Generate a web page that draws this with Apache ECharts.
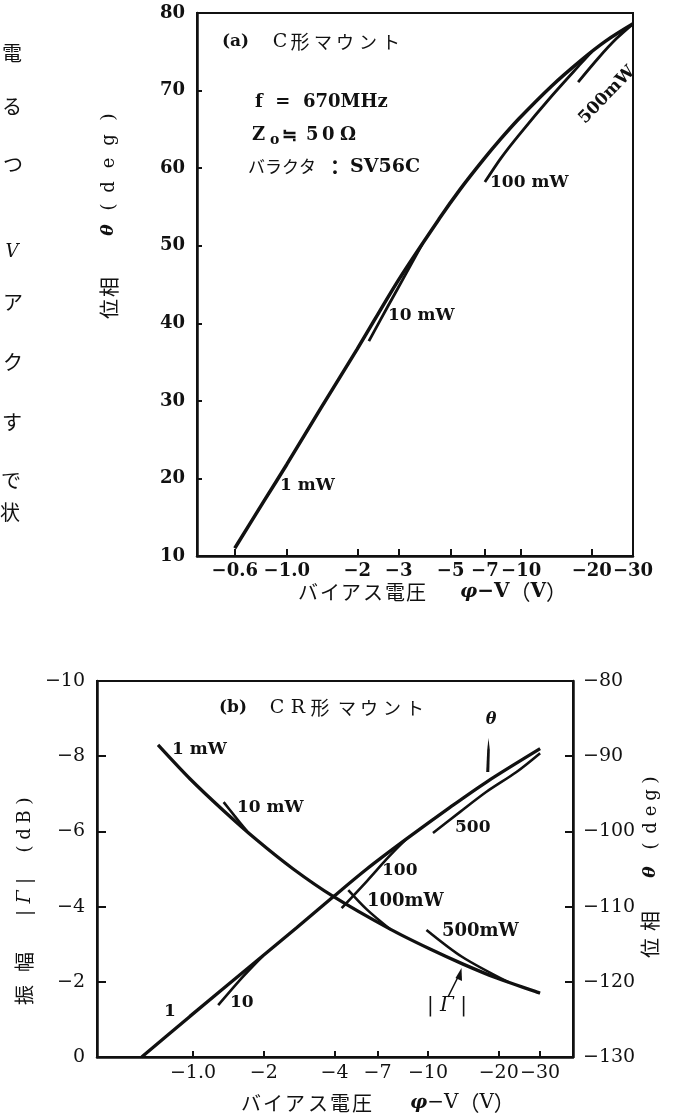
<!DOCTYPE html>
<html><head><meta charset="utf-8">
<script src="https://cdn.jsdelivr.net/npm/echarts@6/dist/echarts.min.js"></script>
<style>html,body{margin:0;padding:0;background:#fff}#c{width:689px;height:1117px}</style>
</head><body><div id="c"></div>
<script>
// ---------------- data (bias voltage magnitude |φ−V| in volts) ----------------
const ticksA = [0.6, 1, 2, 3, 5, 7, 10, 20, 30];
const tickLabelsA = ['−0.6', '−1.0', '−2', '−3', '−5', '−7', '−10', '−20', '−30'];
// chart (b): the "−7" tick is printed at about 6.1 on the log scale
const ticksB = [1, 2, 4, 6.1, 10, 20, 30];
const tickLabelsB = ['−1.0', '−2', '−4', '−7', '−10', '−20', '−30'];

// (a) C-mount: phase θ (deg)
const thetaA_1mW = [[0.6, 11], [0.8, 17.1], [1.0, 21.8], [1.4, 29.1], [2.0, 36.7], [3.0, 45.6], [4.5, 53.6],
  [5.5, 57.3], [6.9, 61.1], [8.2, 63.8], [9.8, 66.4], [13.5, 70.6], [18, 73.9], [23, 76.4], [30, 78.6]];
const thetaA_10mW = [[2.24, 37.7], [2.7, 42.2], [3.2, 46.2], [3.8, 50.3]];
const thetaA_100mW = [[7.0, 58.2], [8.2, 61.3], [9.8, 64.3], [13.5, 69.3], [18, 73.5], [20, 75.0]];
const thetaA_500mW = [[17.5, 71.1], [21.5, 74.3], [25.5, 76.7], [30, 78.6]];

// (b) CR-mount: amplitude |Γ| (dB)
const gammaB_1mW = [[0.71, -8.3], [0.97, -7.40], [1.35, -6.55], [1.87, -5.77], [2.67, -5.0], [3.95, -4.27],
  [6.9, -3.40], [10.2, -2.87], [14.1, -2.47], [19.6, -2.10], [30, -1.70]];
const gammaB_10mW = [[1.35, -6.78], [1.5, -6.42], [1.7, -6.0]];
const gammaB_100mW = [[4.58, -4.44], [5.5, -3.92], [6.9, -3.40]];
const gammaB_500mW = [[9.85, -3.38], [14, -2.66], [22, -1.99]];
// (b) CR-mount: phase θ (deg)
const thetaB_1mW = [[0.605, -130], [0.97, -124.6], [1.87, -117.2], [2.76, -112.8], [3.95, -108.7],
  [5.49, -105.0], [8.1, -101.0], [12.4, -96.8], [17.8, -93.4], [30, -89.0]];
const thetaB_10mW = [[1.28, -123.1], [1.6, -119.6], [1.99, -116.5]];
const thetaB_100mW = [[4.29, -110.2], [5.5, -106.6], [6.8, -103.4], [8.1, -101.0]];
const thetaB_500mW = [[10.5, -100.2], [13.7, -97.4], [17.8, -94.7], [23.8, -92.1], [30, -89.6]];

// ---------------- styles ----------------
const INK = '#111';
const SERIF = "'DejaVu Serif', 'Liberation Serif', serif";
const CJK = "'Noto Sans CJK JP', sans-serif";

function logLabel(ticks, labels) {
  return function (v) {
    for (let i = 0; i < ticks.length; i++) {
      if (Math.abs(Math.log10(v) - Math.log10(ticks[i])) < 0.004) return labels[i];
    }
    return '';
  };
}
const neg = v => (v === 0 ? '0' : '−' + Math.abs(v));

function line(data, xi, yi, w) {
  return { type: 'line', data: data, xAxisIndex: xi, yAxisIndex: yi, symbol: 'none', smooth: 0.3,
    lineStyle: { color: INK, width: w }, silent: true, z: 3 };
}

function txt(x, y, text, opt) {
  opt = opt || {};
  return { type: 'text', x: x, y: y, rotation: opt.rot || 0, z: 10,
    style: { text: text, fill: INK,
      font: opt.font || ('bold 17px ' + SERIF),
      align: opt.align || 'left', textAlign: opt.align || 'left',
      verticalAlign: 'middle', textVerticalAlign: 'middle', rich: opt.rich } };
}
// characters placed one by one (centre positions), optionally rotated
function chars(list, rot) {
  return list.map(c => txt(c[0], c[1], c[2], { align: 'center', font: c[3], rot: rot || 0 }));
}

const F_CJK = s => s + 'px ' + CJK;
const F_SER = s => s + 'px ' + SERIF;
const F_SERB = s => 'bold ' + s + 'px ' + SERIF;
const F_TH = s => 'italic bold ' + s + 'px ' + SERIF;

const axisLineStyle = { show: true, lineStyle: { color: INK, width: 2.5 } };

const xTitleRich = (bold) => ({
  th: { fontFamily: SERIF, fontSize: 19, fontWeight: 'bold', fontStyle: 'italic', fill: INK },
  b: { fontFamily: SERIF, fontSize: 20, fontWeight: bold ? 'bold' : 'normal', fill: INK },
  c: { fontFamily: CJK, fontSize: 21, fill: INK }
});

const graphics = [].concat(
  // ---- chart (a) texts ----
  [txt(222, 42, '(a)', { font: F_SERB(17) })],
  chars([[280, 42, 'C', F_SER(19)], [300, 42, '形', F_CJK(19)], [323, 42, 'マ', F_CJK(18)],
    [345, 42, 'ウ', F_CJK(18)], [368, 42, 'ン', F_CJK(18)], [391, 42, 'ト', F_CJK(18)]]),
  [
    txt(255, 102, 'f  =  670MHz', { font: F_SERB(18) }),
    txt(252, 135, 'Z', { font: F_SERB(18) }),
    txt(270, 140, 'o', { font: F_SERB(14) }),
    txt(282, 134, '≒', { font: 'bold 18px ' + CJK }),
    txt(306, 135, '5', { font: F_SERB(18) }),
    txt(322, 135, '0', { font: F_SERB(18) }),
    txt(340, 135, 'Ω', { font: F_SERB(18) }),
    txt(248, 167, 'バラクタ', { font: F_CJK(17) }),
    txt(335, 167, '：', { align: 'center', font: 'bold 20px ' + CJK }),
    txt(350, 167, 'SV56C', { font: F_SERB(19) }),
    txt(490, 183, '100 mW', { font: F_SERB(17) }),
    txt(607, 95, '500mW', { align: 'center', rot: Math.PI * 0.255, font: F_SERB(17) }),
    txt(388, 316, '10 mW', { font: F_SERB(17) }),
    txt(280, 486, '1 mW', { font: F_SERB(17) })
  ],
  // (a) y-axis title, read bottom to top
  chars([[109, 309, '位', F_CJK(20)], [109, 287, '相', F_CJK(20)], [109, 230, 'θ', F_TH(17)],
    [109, 207, '(', F_SER(19)], [109, 187, 'd', F_SER(18)], [109, 163, 'e', F_SER(18)],
    [109, 140, 'g', F_SER(18)], [109, 117, ')', F_SER(19)]], Math.PI / 2),
  // (a) x-axis title
  chars([[308, 592, 'バ', F_CJK(20)], [330, 592, 'イ', F_CJK(20)], [351, 592, 'ア', F_CJK(20)],
    [373, 592, 'ス', F_CJK(20)], [395, 592, '電', F_CJK(20)], [416, 592, '圧', F_CJK(20)]]),
  [txt(460, 592, '{th|φ}{b|−V}{c|（}{b|V}{c|）}', { rich: xTitleRich(true) })],
  // ---- chart (b) texts ----
  [txt(219, 708, '(b)', { font: F_SERB(17) })],
  chars([[277, 708, 'C', F_SER(19)], [298, 708, 'R', F_SER(19)], [320, 708, '形', F_CJK(19)],
    [347, 708, 'マ', F_CJK(18)], [369, 708, 'ウ', F_CJK(18)], [392, 708, 'ン', F_CJK(18)], [415, 708, 'ト', F_CJK(18)]]),
  [
    txt(172, 750, '1 mW', { font: F_SERB(17) }),
    txt(237, 808, '10 mW', { font: F_SERB(17) }),
    txt(491, 720, 'θ', { align: 'center', font: F_TH(16) }),
    txt(455, 828, '500', { font: F_SERB(17) }),
    txt(382, 871, '100', { font: F_SERB(17) }),
    txt(367, 901, '100mW', { font: F_SERB(18) }),
    txt(442, 931, '500mW', { font: F_SERB(18) }),
    txt(447, 1006, '| Γ |', { align: 'center', font: 'italic 20px ' + SERIF }),
    txt(164, 1012, '1', { font: F_SERB(17) }),
    txt(230, 1003, '10', { font: F_SERB(17) })
  ],
  // (b) left axis title
  chars([[24, 995, '振', F_CJK(20)], [24, 962, '幅', F_CJK(20)], [25, 913, '|', F_SER(18)],
    [25, 897, 'Γ', 'italic 19px ' + SERIF], [25, 881, '|', F_SER(18)], [25, 849, '(', F_SER(19)],
    [25, 834, 'd', F_SER(18)], [25, 817, 'B', F_SER(18)], [25, 801, ')', F_SER(19)]], Math.PI / 2),
  // (b) right axis title
  chars([[650, 948, '位', F_CJK(20)], [650, 921, '相', F_CJK(20)], [651, 872, 'θ', F_TH(17)],
    [651, 846, '(', F_SER(19)], [651, 828, 'd', F_SER(18)], [651, 811, 'e', F_SER(18)],
    [651, 795, 'g', F_SER(18)], [651, 780, ')', F_SER(19)]], Math.PI / 2),
  // (b) x-axis title
  chars([[251, 1103, 'バ', F_CJK(20)], [273, 1103, 'イ', F_CJK(20)], [295, 1103, 'ア', F_CJK(20)],
    [318, 1103, 'ス', F_CJK(20)], [340, 1103, '電', F_CJK(20)], [362, 1103, '圧', F_CJK(20)]]),
  [txt(410, 1103, '{th|φ}{b|−V}{c|（}{b|V}{c|）}', { rich: xTitleRich(false) })],
  // leader marks
  [
    { type: 'polygon', z: 10, shape: { points: [[488.5, 738], [489.8, 750], [489.3, 772], [486.2, 772], [487.2, 750]] }, style: { fill: INK } },
    { type: 'polyline', z: 10, shape: { points: [[448, 997], [459, 975]] }, style: { stroke: INK, lineWidth: 1.6 } },
    { type: 'polygon', z: 10, shape: { points: [[461.5, 968], [462, 981], [455.5, 978]] }, style: { fill: INK } }
  ],
  // cut-off text of the neighbouring page column
  chars([[12, 53, '電', F_CJK(20)], [12, 106, 'る', F_CJK(20)], [13, 164, 'つ', F_CJK(20)],
    [12, 252, 'V', 'italic 18px ' + SERIF], [13, 302, 'ア', F_CJK(20)], [13, 362, 'ク', F_CJK(20)],
    [12, 422, 'す', F_CJK(20)], [11, 480, 'で', F_CJK(20)], [10, 512, '状', F_CJK(20)]])
);

const option = {
  animation: false,
  backgroundColor: '#fff',
  grid: [
    { left: 197, top: 13, width: 436, height: 543, show: true, borderColor: INK, borderWidth: 2,
      containLabel: false, outerBoundsMode: 'none' },
    { left: 97, top: 681, width: 476, height: 376, show: true, borderColor: INK, borderWidth: 2,
      containLabel: false, outerBoundsMode: 'none' }
  ],
  xAxis: [
    { type: 'log', gridIndex: 0, logBase: 10, min: 0.414, max: 30,
      axisLine: axisLineStyle,
      axisTick: { show: true, inside: true, length: 7, customValues: ticksA, lineStyle: { color: INK, width: 2 } },
      axisLabel: { customValues: ticksA, formatter: logLabel(ticksA, tickLabelsA), margin: 6,
        color: INK, fontFamily: SERIF, fontSize: 18, fontWeight: 'bold' },
      splitLine: { show: false }, minorTick: { show: false }, minorSplitLine: { show: false } },
    { type: 'log', gridIndex: 1, logBase: 10, min: 0.3904, max: 41.4,
      axisLine: axisLineStyle,
      axisTick: { show: true, inside: true, length: 6, customValues: ticksB, lineStyle: { color: INK, width: 2 } },
      axisLabel: { customValues: ticksB, formatter: logLabel(ticksB, tickLabelsB), margin: 7,
        color: INK, fontFamily: SERIF, fontSize: 19 },
      splitLine: { show: false }, minorTick: { show: false }, minorSplitLine: { show: false } }
  ],
  yAxis: [
    { type: 'value', gridIndex: 0, min: 10, max: 80, interval: 10,
      axisLine: axisLineStyle,
      axisTick: { show: true, inside: true, length: 5, lineStyle: { color: INK, width: 2 } },
      axisLabel: { margin: 12, color: INK, fontFamily: SERIF, fontSize: 18, fontWeight: 'bold' },
      splitLine: { show: false } },
    { type: 'value', gridIndex: 1, min: -10, max: 0, interval: 2, inverse: true, position: 'left',
      axisLine: axisLineStyle,
      axisTick: { show: true, inside: true, length: 9, lineStyle: { color: INK, width: 2 } },
      axisLabel: { margin: 12, color: INK, fontFamily: SERIF, fontSize: 19, formatter: neg },
      splitLine: { show: false } },
    { type: 'value', gridIndex: 1, min: -130, max: -80, interval: 10, position: 'right',
      axisLine: axisLineStyle,
      axisTick: { show: true, inside: true, length: 8, lineStyle: { color: INK, width: 2 } },
      axisLabel: { margin: 10, color: INK, fontFamily: SERIF, fontSize: 19, formatter: neg },
      splitLine: { show: false } }
  ],
  series: [
    line(thetaA_1mW, 0, 0, 3.5),
    line(thetaA_10mW, 0, 0, 2.8),
    line(thetaA_100mW, 0, 0, 2.8),
    line(thetaA_500mW, 0, 0, 2.8),
    line(gammaB_1mW, 1, 1, 3.3),
    line(gammaB_10mW, 1, 1, 2.6),
    line(gammaB_100mW, 1, 1, 2.6),
    line(gammaB_500mW, 1, 1, 2.6),
    line(thetaB_1mW, 1, 2, 3.3),
    line(thetaB_10mW, 1, 2, 2.6),
    line(thetaB_100mW, 1, 2, 2.6),
    line(thetaB_500mW, 1, 2, 2.6)
  ],
  graphic: graphics
};

const chart = echarts.init(document.getElementById('c'), null, { renderer: 'canvas' });
chart.setOption(option);
</script>
</body></html>
